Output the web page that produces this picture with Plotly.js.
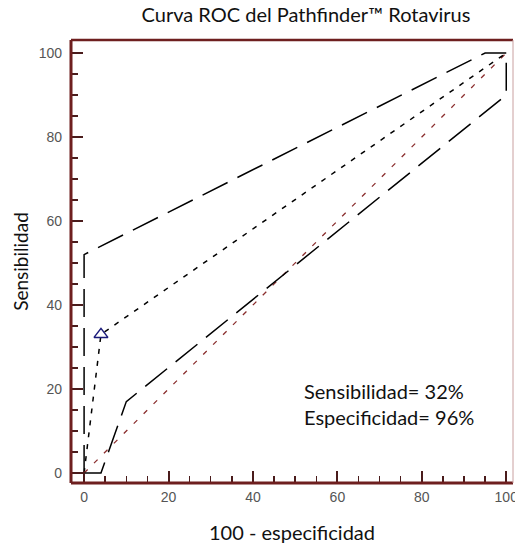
<!DOCTYPE html>
<html>
<head>
<meta charset="utf-8">
<script src="https://cdn.plot.ly/plotly-3.0.1.min.js"></script>
<style>html,body{margin:0;padding:0;background:#fff;}#chart{width:515px;height:544px;}</style>
</head>
<body>
<div id="chart"></div>
<script>
// ROC curve (100 - specificity vs sensitivity)
const rocX = [0, 4, 100];
const rocY = [0, 33, 100];
// Upper confidence band
const upperX = [0, 0, 95, 100];
const upperY = [0, 52, 100, 100];
// Lower confidence band
const lowerX = [0, 4, 10, 100, 100];
const lowerY = [0, 0, 17, 90, 100];
// Reference diagonal
const diagX = [0, 100];
const diagY = [0, 100];
// Cut-off point
const pointX = [4];
const pointY = [33];
const tickVals = [0, 20, 40, 60, 80, 100];
const tickText = ['0', '20', '40', '60', '80', '100'];

const frame = '#6e1f1f';
const tickCol = '#4a1c1c';
const textFont = 'Lato, Open Sans, sans-serif';

const traces = [
  {x: diagX, y: diagY, mode: 'lines', line: {color: '#8b2e2e', width: 1.3, dash: '5px,9px'}},
  {x: upperX, y: upperY, mode: 'lines', line: {color: '#000', width: 1.5, dash: '28px,11px'}},
  {x: lowerX, y: lowerY, mode: 'lines', line: {color: '#000', width: 1.5, dash: '28px,11px'}},
  {x: rocX, y: rocY, mode: 'lines', line: {color: '#000', width: 1.5, dash: '5px,7px'}},
  {x: pointX, y: pointY, mode: 'markers', marker: {symbol: 'triangle-up-open', size: 12, color: '#1a1a7a', line: {width: 1.5, color: '#1a1a7a'}}}
];

const layout = {
  width: 515, height: 544,
  margin: {l: 71, r: 2, t: 40, b: 61},
  showlegend: false,
  title: {text: 'Curva ROC del Pathfinder™ Rotavirus', x: 306/515, xanchor: 'center', y: 1 - 15/544, yanchor: 'middle',
          font: {family: textFont, size: 20, color: '#111'}},
  xaxis: {
    range: [-3.1, 101.6], showgrid: false, zeroline: false,
    tickmode: 'array', tickvals: tickVals, ticktext: tickText,
    ticks: 'inside', ticklen: 12, tickwidth: 2, tickcolor: tickCol,
    tickfont: {family: 'Arial', size: 14, color: '#555'},
    ticklabelstandoff: 4, ticklabeloverflow: 'allow',
    minor: {dtick: 5, ticks: 'inside', ticklen: 7, tickwidth: 1.5, tickcolor: tickCol},
    title: {text: '100 - especificidad', standoff: 22, font: {family: textFont, size: 20, color: '#111'}}
  },
  yaxis: {
    range: [-2.38, 103.1], showgrid: false, zeroline: false,
    tickmode: 'array', tickvals: tickVals, ticktext: tickText,
    ticks: 'inside', ticklen: 12, tickwidth: 2, tickcolor: tickCol,
    tickfont: {family: 'Arial', size: 14, color: '#555'},
    ticklabelstandoff: 8,
    minor: {dtick: 5, ticks: 'inside', ticklen: 7, tickwidth: 1.5, tickcolor: tickCol},
    title: {text: 'Sensibilidad', standoff: 4, font: {family: textFont, size: 19, color: '#111'}}
  },
  shapes: [
    {type: 'line', xref: 'paper', yref: 'paper', x0: 0, x1: 0, y0: 0, y1: 1, line: {color: frame, width: 3}},
    {type: 'line', xref: 'paper', yref: 'paper', x0: 0, x1: 1, y0: 0, y1: 0, line: {color: frame, width: 3}},
    {type: 'line', xref: 'paper', yref: 'paper', x0: 0, x1: 1, y0: 1, y1: 1, line: {color: frame, width: 2.5}},
    {type: 'line', xref: 'paper', yref: 'paper', x0: 1, x1: 1, y0: 0, y1: 1, line: {color: '#c9a0a0', width: 1}}
  ],
  annotations: [
    {x: 51.7, y: 16.4, xref: 'x', yref: 'y', xanchor: 'left', yanchor: 'middle', align: 'left', showarrow: false,
     text: 'Sensibilidad= 32%<br>Especificidad= 96%',
     font: {family: textFont, size: 20, color: '#111'}}
  ]
};

Plotly.newPlot('chart', traces, layout, {displayModeBar: false, staticPlot: true});
</script>
</body>
</html>
